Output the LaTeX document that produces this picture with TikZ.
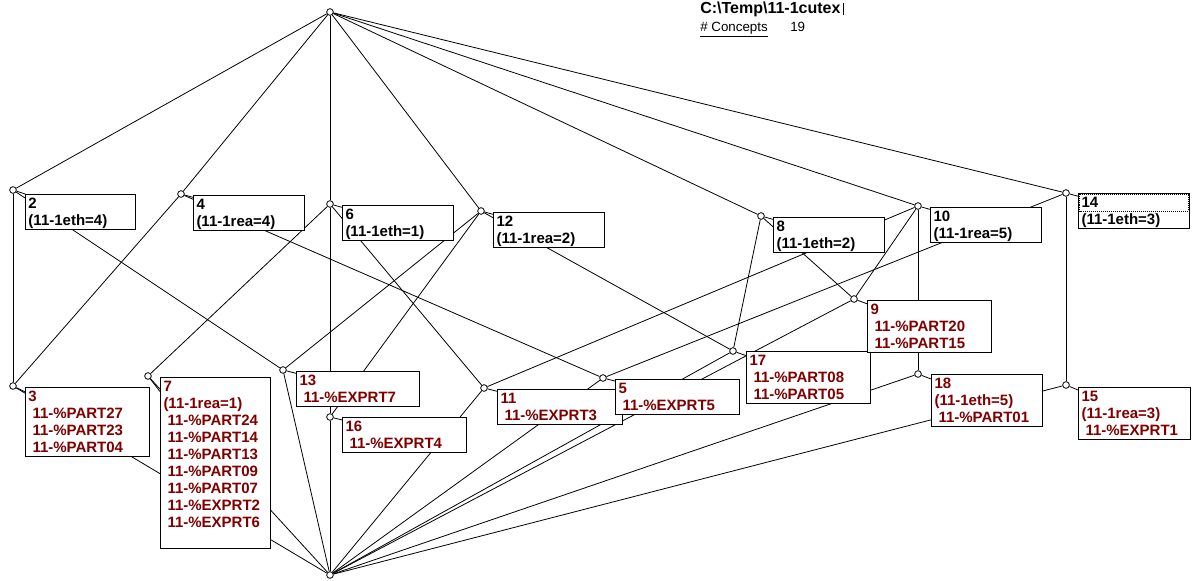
\documentclass[tikz,border=0pt]{standalone}
\usepackage{fontspec}
\setmainfont{Liberation Sans}
\definecolor{objred}{RGB}{128,0,0}
\newcommand{\objln}[1]{\hspace*{3pt}#1}
\newcommand{\lnstrut}{\rule[-2.25pt]{0pt}{12pt}}
\tikzset{
  cpt/.style={circle,draw,fill=white,inner sep=0pt,minimum size=5pt,line width=0.6pt},
  lbl/.style={draw,fill=white,anchor=north west,align=left,line width=0.75pt,
    inner xsep=2.25pt,inner ysep=0.75pt,font=\fontsize{11.25}{12.75}\selectfont\bfseries,
    execute at begin node=\lnstrut,execute at end node=\lnstrut},
  attr/.style={lbl,text=black},
  obj/.style={lbl,text=objred},
  link/.style={line width=0.6pt}
}
\begin{document}
\begin{tikzpicture}[x=0.75pt,y=-0.75pt]
    \useasboundingbox (0,0) rectangle (1192,581);
    % header
    \node[anchor=base west,inner sep=0pt,font=\fontsize{12}{13}\selectfont\bfseries] (title) at (700,14)
        {C:\textbackslash Temp\textbackslash 11-1cutex\,\rule[-1pt]{0.6pt}{9pt}};
    \node[anchor=base west,inner sep=0pt,font=\fontsize{10}{12}\selectfont] (cnt) at (700,32) {\underline{\# Concepts}};
    \node[anchor=base west,inner sep=0pt,font=\fontsize{10}{12}\selectfont] (num) at (790,32) {19};
    % concepts
    \foreach \n/\x/\y in {top/330/12,bot/330/575,2/13/190,4/181/194,6/330/204,12/481/211,
        8/761/216,10/918/206,14/1066/193,3/13/386,7/148/376,13/283/370,16/330/417,
        11/484/388,5/603/378,17/733/351,9/854/299,18/918/374,15/1066/385}
        \node[cpt] (c\n) at (\x,\y) {};
    % lattice lines
    \foreach \a/\b in {top/2,top/4,top/6,top/12,top/8,top/10,top/14,
        2/3,2/13,4/3,4/5,6/7,6/16,6/11,12/13,12/16,12/17,8/17,8/9,
        10/9,10/11,10/18,14/5,14/15,
        3/bot,7/bot,13/bot,16/bot,11/bot,5/bot,17/bot,9/bot,18/bot,15/bot}
        \draw[link] (c\a) -- (c\b);
    % labels
    \node[attr,text width=78pt] (l2) at (25,194) {2\\(11-1eth=4)};
    \node[attr,text width=78.75pt] (l4) at (193,195) {4\\(11-1rea=4)};
    \node[attr,text width=78.75pt] (l6) at (342,205) {6\\(11-1eth=1)};
    \node[attr,text width=78.75pt] (l12) at (493,212) {12\\(11-1rea=2)};
    \node[attr,text width=78.75pt] (l8) at (773,217) {8\\(11-1eth=2)};
    \node[attr,text width=78.75pt] (l10) at (930,207) {10\\(11-1rea=5)};
    \node[attr,text width=78.75pt] (l14) at (1078,193) {14\\(11-1eth=3)};
    \draw[dash pattern=on 0.75pt off 0.75pt,line width=0.6pt]
        ([shift={(1.5,1.5)}]l14.north west) rectangle ([shift={(-1.5,18)}]l14.north east);
    \node[obj,text width=88.5pt] (l3) at (25,387)
        {3\\\objln{11-\%PART27}\\\objln{11-\%PART23}\\\objln{11-\%PART04}};
    \node[obj,text width=78pt] (l7) at (160,377)
        {7\\(11-1rea=1)\\\objln{11-\%PART24}\\\objln{11-\%PART14}\\\objln{11-\%PART13}\\
        \objln{11-\%PART09}\\\objln{11-\%PART07}\\\objln{11-\%EXPRT2}\\\objln{11-\%EXPRT6}\\\mbox{}};
    \node[obj,text width=87.75pt] (l13) at (296,371) {13\\\objln{11-\%EXPRT7}};
    \node[obj,text width=88.5pt] (l16) at (342,417) {16\\\objln{11-\%EXPRT4}};
    \node[obj,text width=89.25pt] (l11) at (497,389) {11\\\objln{11-\%EXPRT3}};
    \node[obj,text width=88.5pt] (l5) at (615,379) {5\\\objln{11-\%EXPRT5}};
    \node[obj,text width=88.5pt] (l17) at (746,351) {17\\\objln{11-\%PART08}\\\objln{11-\%PART05}};
    \node[obj,text width=88.5pt] (l9) at (867,300) {9\\\objln{11-\%PART20}\\\objln{11-\%PART15}};
    \node[obj,text width=78.75pt] (l18) at (931,374) {18\\(11-1eth=5)\\\objln{11-\%PART01}};
    \node[obj,text width=79.5pt] (l15) at (1078,387) {15\\(11-1rea=3)\\\objln{11-\%EXPRT1}};
    % label ties
    \foreach \n in {2,4,6,12,8,10,14,3,7,13,16,11,5,17,9,18,15}
        \draw[link] (c\n) -- (l\n);
\end{tikzpicture}
\end{document}
